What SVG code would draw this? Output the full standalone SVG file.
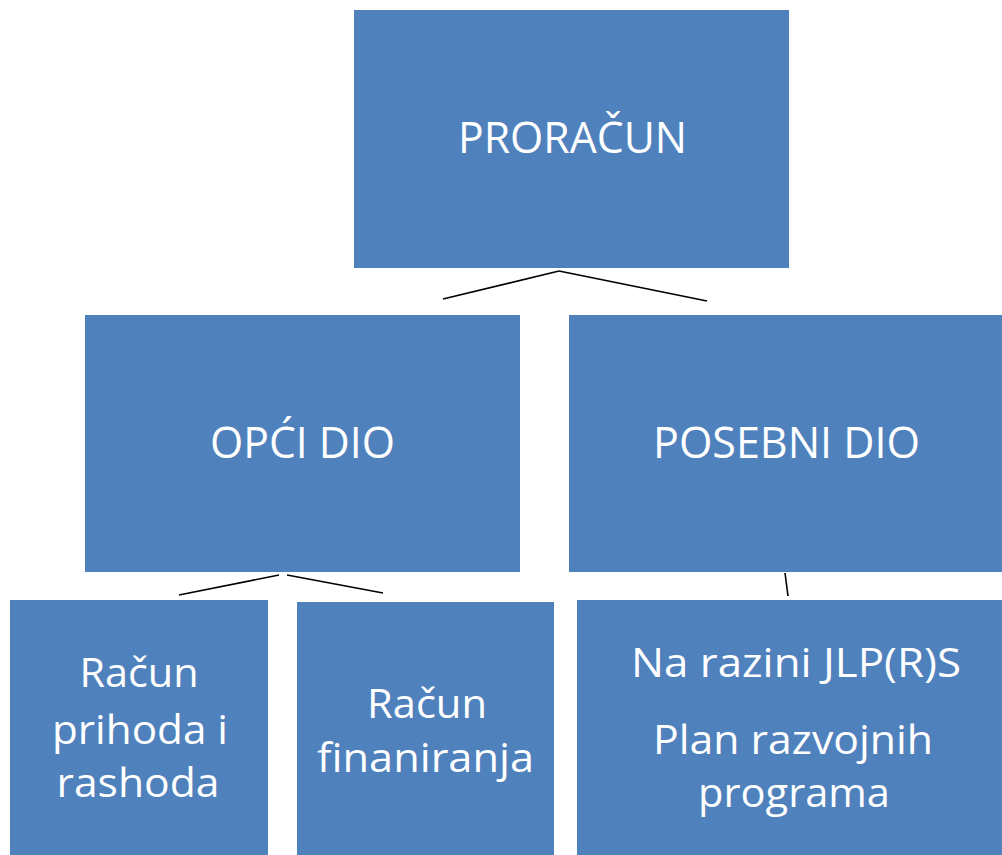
<svg xmlns="http://www.w3.org/2000/svg" width="1002" height="855" viewBox="0 0 1002 855">
<style>
.box{fill:#4F81BD}
.t{fill:#fff;font-family:"Open Sans","Liberation Sans",sans-serif;text-anchor:middle}
.big{font-size:44px}
.sm{font-size:41px}
.ln{stroke:#000;stroke-width:1.6;fill:none}
</style>
<rect width="1002" height="855" fill="#fff"/>
<g id="connectors">
<line class="ln" x1="559" y1="271" x2="443" y2="299"/>
<line class="ln" x1="559" y1="271" x2="707" y2="301"/>
<line class="ln" x1="279" y1="575" x2="179" y2="595"/>
<line class="ln" x1="287" y1="575" x2="383" y2="593"/>
<line class="ln" x1="785" y1="573" x2="788" y2="596"/>
</g>
<g id="proracun">
<rect class="box" x="354" y="10" width="435" height="258"/>
<text class="t big" x="572.5" y="153" textLength="229" lengthAdjust="spacingAndGlyphs">PRORAČUN</text>
</g>
<g id="opci-dio">
<rect class="box" x="85" y="315" width="435" height="257"/>
<text class="t big" x="302.5" y="458" textLength="185" lengthAdjust="spacingAndGlyphs">OPĆI DIO</text>
</g>
<g id="posebni-dio">
<rect class="box" x="569" y="315" width="433" height="257"/>
<text class="t big" x="786.5" y="458" textLength="267" lengthAdjust="spacingAndGlyphs">POSEBNI DIO</text>
</g>
<g id="racun-prihoda">
<rect class="box" x="10" y="600" width="258" height="255"/>
<text class="t sm" x="139" y="687" textLength="119" lengthAdjust="spacingAndGlyphs">Račun</text>
<text class="t sm" x="140" y="744" textLength="176" lengthAdjust="spacingAndGlyphs">prihoda i</text>
<text class="t sm" x="138" y="797" textLength="163" lengthAdjust="spacingAndGlyphs">rashoda</text>
</g>
<g id="racun-financiranja">
<rect class="box" x="297" y="602" width="257" height="253"/>
<text class="t sm" x="427" y="718" textLength="120" lengthAdjust="spacingAndGlyphs">Račun</text>
<text class="t sm" x="425.5" y="772" textLength="217" lengthAdjust="spacingAndGlyphs">finaniranja</text>
</g>
<g id="jlprs">
<rect class="box" x="577" y="600" width="425" height="255"/>
<text class="t sm" x="796" y="677" textLength="330" lengthAdjust="spacingAndGlyphs">Na razini JLP(R)S</text>
<text class="t sm" x="793" y="754" textLength="280" lengthAdjust="spacingAndGlyphs">Plan razvojnih</text>
<text class="t sm" x="794" y="807" textLength="192" lengthAdjust="spacingAndGlyphs">programa</text>
</g>
</svg>
